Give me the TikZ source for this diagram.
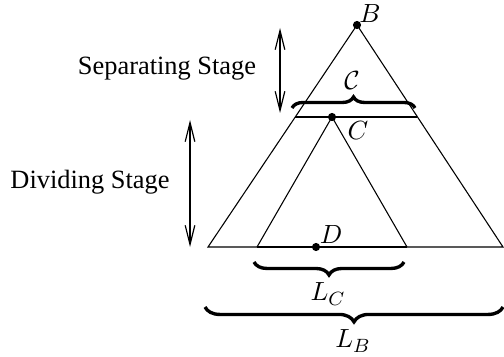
\documentclass[tikz,border=0pt]{standalone}
\usepackage{fontspec}
\setmainfont{Liberation Serif}
\usetikzlibrary{arrows.meta, decorations.pathreplacing}

\begin{document}
\begin{tikzpicture}[x=0.4167pt, y=-0.4167pt,
    dot/.style={circle, fill, inner sep=0pt, minimum size=3.4pt},
    lbl/.style={inner sep=0pt, font=\fontsize{11}{13}\selectfont},
    stg/.style={{Straight Barb[length=8pt, width=4pt]}-{Straight Barb[length=8pt, width=4pt]}, line width=0.5pt},
    brc/.style={decorate, decoration={brace, amplitude=#1}, line width=1.4pt},
  ]
  \clip (0,0) rectangle (504,356);
  % tree corners
  \node[dot] (b) at (357,25) {};
  \node[dot] (c) at (332,117) {};
  \node[dot] (d) at (316,247) {};
  \coordinate (bl) at (208,247);
  \coordinate (br) at (503,247);
  \coordinate (cl) at (257,247);
  \coordinate (cr) at (407,247);
  \coordinate (hl) at (295,117);
  \coordinate (hr) at (417,117);
  \draw[line width=0.45pt] (b.center) -- (bl) -- (br) -- cycle;
  \draw[line width=0.45pt] (cl) -- (c.center) -- (cr);
  \draw[line width=0.45pt] (hl) -- (hr);
  \draw[line width=0.9pt] (cl) -- (cr);
  \node[lbl] at (370,14) {$B$};
  \node[lbl] at (358,131) {$C$};
  \node[lbl] at (331,235) {$D$};
  % stages
  \coordinate (sept) at (280,28);
  \coordinate (sepb) at (280,113);
  \coordinate (divt) at (190,120);
  \coordinate (divb) at (190,247);
  \draw[stg] (sept) -- (sepb);
  \draw[stg] (divt) -- (divb);
  \node[lbl] (sep) at (167,69) {Separating Stage};
  \node[lbl] (div) at (90,182) {Dividing Stage};
  % braces
  \coordinate (ccl) at (292,108);
  \coordinate (ccr) at (415,108);
  \draw[brc=4.6pt] (ccl) -- (ccr);
  \node[lbl] at (352,81) {$\mathcal{C}$};
  \coordinate (lcl) at (254,262);
  \coordinate (lcr) at (404,262);
  \draw[brc=5.4pt] (lcr) -- (lcl);
  \node[lbl] at (328,294) {$L_C$};
  \coordinate (lbl) at (205,307);
  \coordinate (lbr) at (503,307);
  \draw[brc=6.2pt] (lbr) -- (lbl);
  \node[lbl] at (353,341) {$L_B$};
  % caption, cut off at the bottom
  \node[lbl, anchor=base west] (cap) at (22,376) {Figure 4. The};
  \node[lbl, anchor=base west] at (225,376) {$\mathcal{T}$};
\end{tikzpicture}
\end{document}
